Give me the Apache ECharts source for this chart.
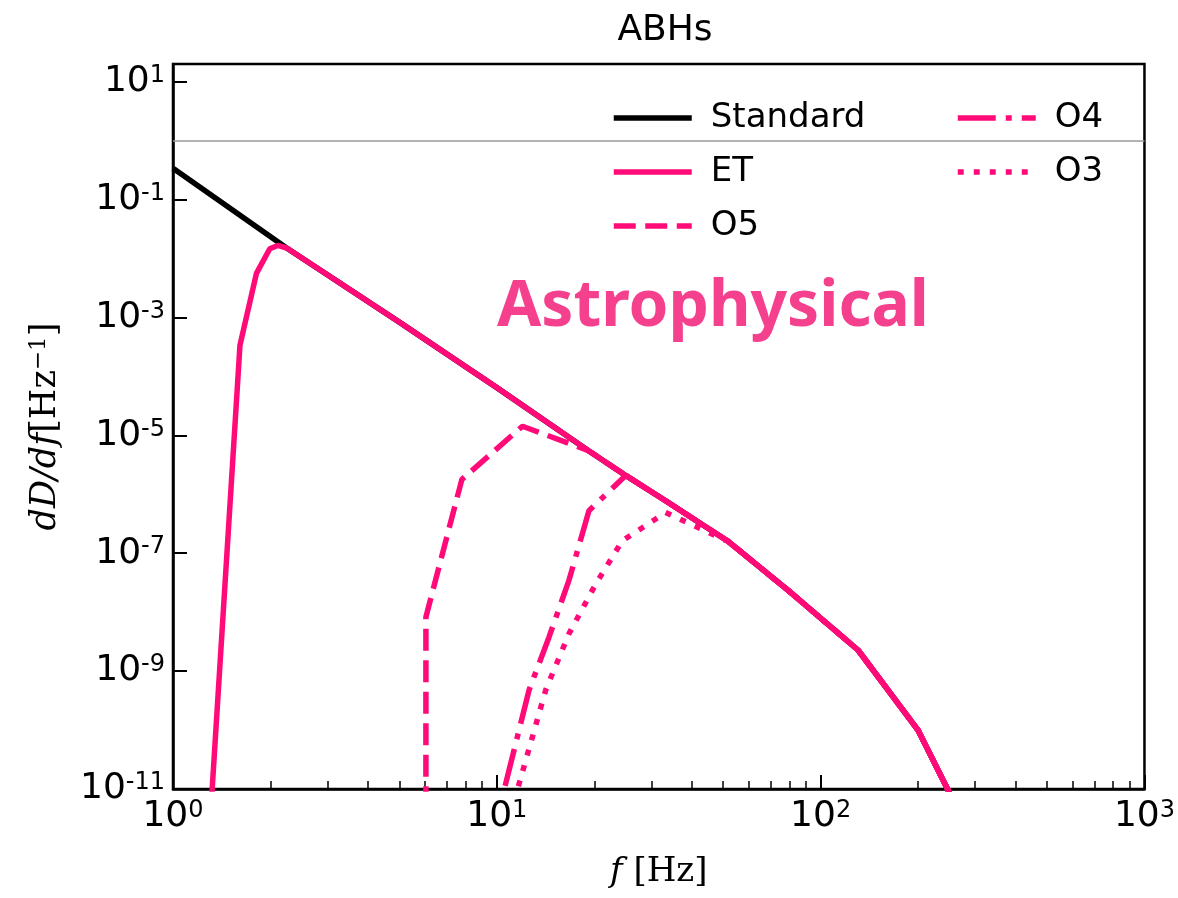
<!DOCTYPE html>
<html>
<head>
<meta charset="utf-8">
<script src="https://cdn.jsdelivr.net/npm/echarts@6/dist/echarts.min.js"></script>
<style>
  html, body { margin: 0; padding: 0; background: #fff; }
  #main { width: 1178px; height: 898px; }
</style>
</head>
<body>
<div id="main"></div>
<script>
// frequencies [Hz] and dD/df values
const standardF = [1, 2.244, 5, 10, 19.2, 25, 33.2, 51.9, 79.4, 130.6, 199.8, 304]
const standardV = [0.339, 0.0151, 8.34e-4, 6.46e-5, 5.5e-6, 2.09e-6, 7.76e-7, 1.58e-7, 2.34e-8, 2.26e-9, 1.0e-10, 1e-12]

const etF = [1.287, 1.61, 1.81, 1.99, 2.106, 2.244, 5, 10, 19.2, 25, 33.2, 51.9, 79.4, 130.6, 199.8, 304]
const etV = [1e-12, 3.4e-4, 5.6e-3, 0.0147, 0.0167, 0.0151, 8.34e-4, 6.46e-5, 5.5e-6, 2.09e-6, 7.76e-7, 1.58e-7, 2.34e-8, 2.26e-9, 1.0e-10, 1e-12]

const o5F = [6.04, 6.04, 7.8, 12.0, 19.2, 25, 33.2, 51.9, 79.4, 130.6, 199.8, 304]
const o5V = [1e-14, 8.3e-9, 1.79e-6, 1.43e-5, 5.5e-6, 2.09e-6, 7.76e-7, 1.58e-7, 2.34e-8, 2.26e-9, 1.0e-10, 1e-12]

const o4F = [9.5, 10.66, 12.58, 14.5, 16.7, 19.25, 25, 33.2, 51.9, 79.4, 130.6, 199.8, 304]
const o4V = [1e-12, 1.26e-11, 4.8e-10, 3.8e-9, 3.47e-8, 5.25e-7, 2.09e-6, 7.76e-7, 1.58e-7, 2.34e-8, 2.26e-9, 1.0e-10, 1e-12]

const o3F = [10.3, 11.86, 14.16, 16.7, 20.2, 24.4, 33.2, 51.9, 79.4, 130.6, 199.8, 304]
const o3V = [1e-12, 1.55e-11, 4.8e-10, 4.3e-9, 3.0e-8, 1.63e-7, 4.9e-7, 1.58e-7, 2.34e-8, 2.26e-9, 1.0e-10, 1e-12]

const PINK = '#ff0a78'
const pair = (xs, ys) => xs.map((x, i) => [x, ys[i]])

// 10^n labels with superscript
const powLabel = (v) => {
  const e = Math.log10(v)
  if (Math.abs(e - Math.round(e)) > 1e-6) return ''
  return '{b|10}{s|' + Math.round(e) + '}'
}
const labelRich = {
  b: { fontSize: 36, fontFamily: 'DejaVu Sans', color: '#000' },
  s: { fontSize: 24, fontFamily: 'DejaVu Sans', color: '#000', verticalAlign: 'top' }
}

const line = (name, data, color, type, z) => ({
  name: name,
  type: 'line',
  data: data,
  symbol: 'none',
  showSymbol: false,
  clip: true,
  z: z,
  lineStyle: { color: color, width: 5.5, type: type, cap: 'butt' },
  itemStyle: { color: color }
})

const legendBase = {
  orient: 'vertical',
  top: 93,
  itemWidth: 78, itemHeight: 14, itemGap: 14,
  itemStyle: { opacity: 0 },
  lineStyle: { width: 5.5 },
  textStyle: { fontSize: 34, fontFamily: 'DejaVu Sans', color: '#000', lineHeight: 40, padding: [0, 0, 0, 14] }
}

const chart = echarts.init(document.getElementById('main'))

const standardSeries = line('Standard', pair(standardF, standardV), '#000', 'solid', 2)
standardSeries.markLine = {
  silent: true,
  symbol: ['none', 'none'],
  label: { show: false },
  lineStyle: { color: '#999', width: 1.5, type: 'solid' },
  data: [{ yAxis: 1 }]
}

chart.setOption({
  animation: false,
  backgroundColor: '#fff',
  title: {
    text: 'ABHs',
    left: 660,
    top: 8,
    textAlign: 'center',
    textStyle: { fontSize: 36, fontWeight: 'normal', fontFamily: 'DejaVu Sans', color: '#000' }
  },
  grid: {
    left: 173, right: 31, top: 64, bottom: 109,
    show: true, borderColor: '#000', borderWidth: 2.5, backgroundColor: '#fff'
  },
  legend: [
    Object.assign({ data: ['Standard', 'ET', 'O5'], left: 606 }, legendBase),
    Object.assign({ data: ['O4', 'O3'], left: 950 }, legendBase)
  ],
  xAxis: {
    type: 'log',
    logBase: 10,
    min: 1,
    max: 1000,
    name: '{i|f}{n| [Hz]}',
    nameLocation: 'middle',
    nameGap: 66,
    nameTextStyle: {
      rich: {
        i: { fontSize: 34, fontFamily: 'DejaVu Serif', fontStyle: 'italic', color: '#000' },
        n: { fontSize: 34, fontFamily: 'DejaVu Serif', color: '#000' }
      }
    },
    axisLine: { lineStyle: { color: '#000', width: 2.5 } },
    axisTick: { inside: true, length: 14, lineStyle: { color: '#000', width: 2 } },
    minorTick: { show: true, splitNumber: 9, length: 8, lineStyle: { color: '#000', width: 1.5 } },
    splitLine: { show: false },
    minorSplitLine: { show: false },
    axisLabel: { formatter: powLabel, rich: labelRich, margin: 10, showMinLabel: true, showMaxLabel: true }
  },
  yAxis: {
    type: 'log',
    logBase: 10,
    min: 1e-11,
    max: 20,
    interval: 2,
    name: '{i|dD/df}{n|[Hz}{s|−1}{n|]}',
    nameLocation: 'middle',
    nameRotate: 90,
    nameGap: 110,
    nameTextStyle: {
      rich: {
        i: { fontSize: 35, fontFamily: 'DejaVu Serif', fontStyle: 'italic', color: '#000' },
        n: { fontSize: 35, fontFamily: 'DejaVu Serif', color: '#000' },
        s: { fontSize: 23, fontFamily: 'DejaVu Serif', color: '#000', verticalAlign: 'top' }
      }
    },
    axisLine: { lineStyle: { color: '#000', width: 2.5 } },
    axisTick: { inside: true, length: 14, lineStyle: { color: '#000', width: 2 } },
    splitLine: { show: false },
    axisLabel: { formatter: powLabel, rich: labelRich, margin: 8 }
  },
  graphic: [
    {
      type: 'text',
      x: 497,
      y: 308,
      z: 100,
      style: {
        text: 'Astrophysical',
        font: 'bold 64px "Noto Sans"',
        fill: '#f5418d',
        verticalAlign: 'middle'
      }
    }
  ],
  series: [
    standardSeries,
    line('ET', pair(etF, etV), PINK, 'solid', 3),
    line('O5', pair(o5F, o5V), PINK, [22, 9.5], 4),
    line('O4', pair(o4F, o4V), PINK, [38, 10, 6, 10], 5),
    line('O3', pair(o3F, o3V), PINK, [6, 10], 6)
  ]
})
</script>
</body>
</html>
